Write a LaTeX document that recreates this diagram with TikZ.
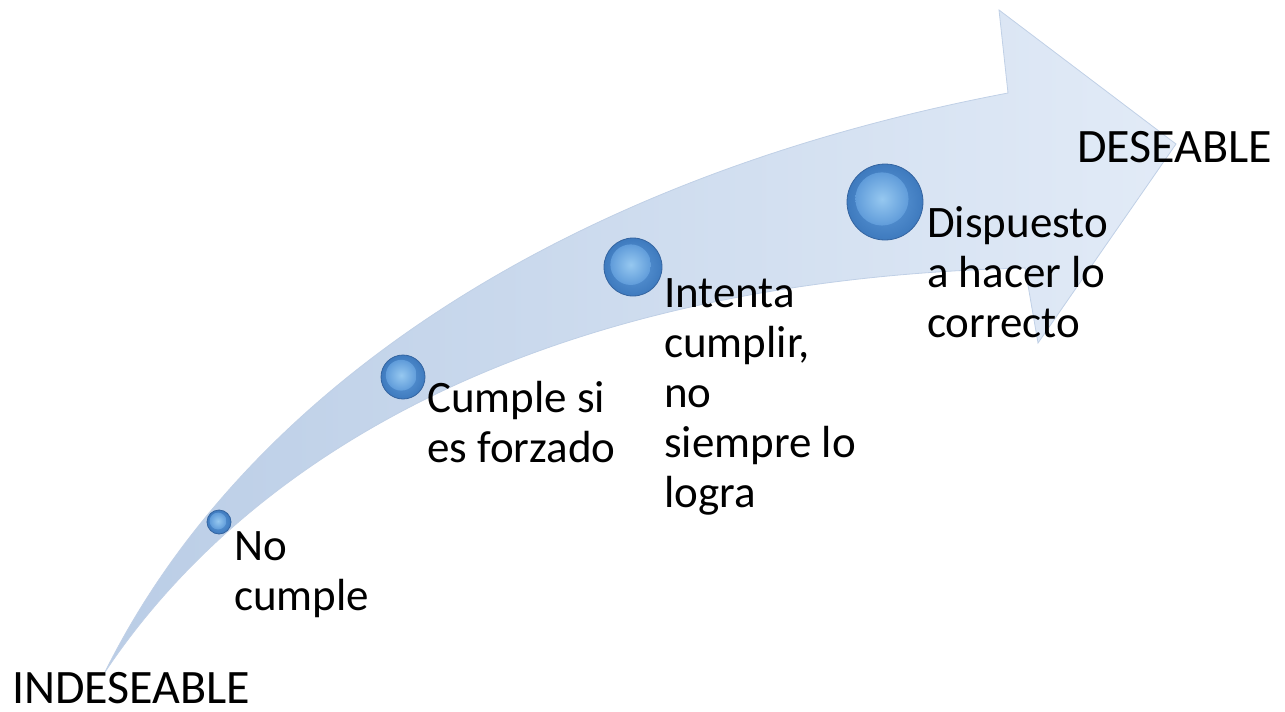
\documentclass[tikz,border=0pt]{standalone}
\usepackage{fontspec}
\setmainfont{Carlito}
\usepackage{tikz}
\usetikzlibrary{calc, positioning}
\definecolor{arrowdark}{RGB}{186,205,230}
\definecolor{arrowmid}{RGB}{212,225,242}
\definecolor{arrowlight}{RGB}{226,235,247}
\definecolor{arrowline}{RGB}{192,208,230}
\definecolor{balldark}{RGB}{62,122,190}
\definecolor{ballmid}{RGB}{96,156,218}
\definecolor{ballhi}{RGB}{150,200,240}
\definecolor{ballline}{RGB}{52,100,160}
\tikzstyle{ball} = [circle, draw=ballline, line width=0.8pt, inner sep=0pt, shade, inner color=ballmid, outer color=balldark]
\tikzstyle{txt} = [inner sep=0pt, align=left, anchor=base west, font=\fontsize{45}{50}\selectfont]
\tikzstyle{endtxt} = [txt, font=\fontsize{48}{50}\selectfont]

\begin{document}
\begin{tikzpicture}[x=1pt, y=-1pt]
    \useasboundingbox (0,0) rectangle (1285,712);
    % the rising arrow
    \shade[left color=arrowdark, middle color=arrowmid, right color=arrowlight, draw=arrowline, line width=0.8pt]
        (105,672) .. controls (240,400) and (550,180) .. (1008,93)
        -- (999,10) -- (1176,144) -- (1038,343) -- (1025,268)
        .. controls (520,280) and (240,470) .. (105,672) -- cycle;
    % the steps
    \foreach \x/\y/\r/\n in {219/522/12/b1, 403/377/22/b2, 633/267/29/b3, 885/202/38/b4} {
        \node [ball, minimum size={2*\r*1pt}] (\n) at (\x,\y) {};
        \shade [inner color=ballhi, outer color=ballmid]
            ($(\n.center)+(-0.08*\r,-0.08*\r)$) circle ({0.7*\r*1pt});
    }
    % base anchor = last line
    \node [txt] (t1) at (234,610) {No\\cumple};
    \node [txt] (t2) at (427,462) {Cumple si\\es forzado};
    \node [txt] (t3) at (664,507) {Intenta\\cumplir,\\no\\siempre lo\\logra};
    \node [txt] (t4) at (927,337) {Dispuesto\\a hacer lo\\correcto};
    \node [endtxt] (lo) at (12,703) {INDESEABLE};
    \node [endtxt] (hi) at (1077,162) {DESEABLE};
\end{tikzpicture}
\end{document}
